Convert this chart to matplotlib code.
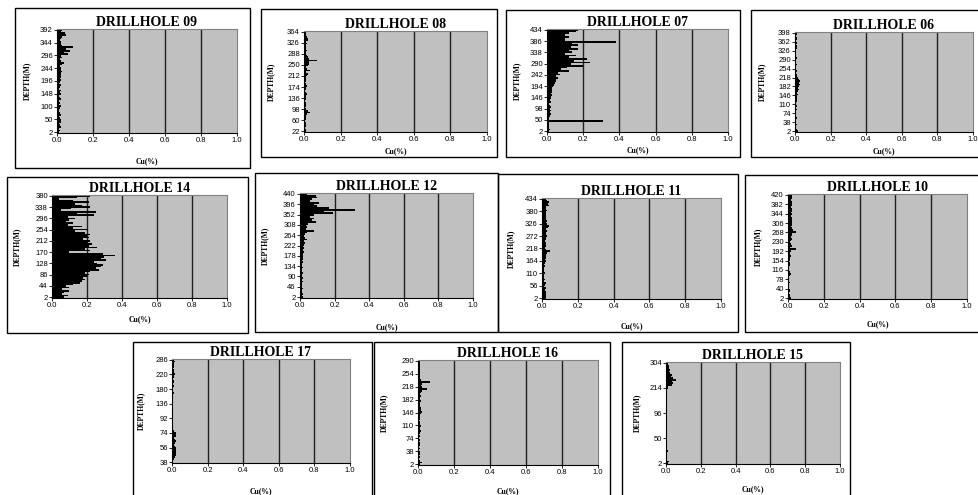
import matplotlib
matplotlib.use("Agg")
import matplotlib.pyplot as plt
import numpy as np
from matplotlib.patches import Rectangle

# Cu(%) per sample, listed from the bottom of the hole upwards
cu_09 = [0.01, 0.015, 0.01, 0.02, 0.015, 0.01, 0.02, 0.025, 0.015, 0.01,
         0.02, 0.015, 0.01, 0.01, 0.015, 0.02, 0.01, 0.015, 0.01, 0.02,
         0.015, 0.01, 0.02, 0.015, 0.025, 0.01, 0.015, 0.02, 0.01, 0.015,
         0.02, 0.015, 0.02, 0.025, 0.02, 0.03, 0.025, 0.02, 0.015, 0.03,
         0.04, 0.02, 0.015, 0.03, 0.025, 0.06, 0.04, 0.075, 0.05, 0.09,
         0.03, 0.02, 0.025, 0.015, 0.02, 0.03, 0.05, 0.045, 0.02, 0.03]
cu_08 = [0.01, 0.012, 0.008, 0.01, 0.012, 0.01, 0.008, 0.01, 0.012, 0.01,
         0.015, 0.035, 0.02, 0.01, 0.008, 0.01, 0.012, 0.01, 0.008, 0.01,
         0.01, 0.012, 0.015, 0.01, 0.008, 0.01, 0.012, 0.015, 0.01, 0.008,
         0.01, 0.012, 0.01, 0.015, 0.02, 0.01, 0.035, 0.015, 0.01, 0.02,
         0.025, 0.03, 0.07, 0.025, 0.02, 0.015, 0.012, 0.01, 0.015, 0.01,
         0.012, 0.01, 0.015, 0.01, 0.02, 0.02, 0.015, 0.01, 0.012, 0.01]
cu_07 = [0.01, 0.015, 0.01, 0.012, 0.01, 0.01, 0.31, 0.012, 0.01, 0.015,
         0.02, 0.015, 0.02, 0.018, 0.02, 0.015, 0.012, 0.02, 0.015, 0.02,
         0.02, 0.025, 0.02, 0.03, 0.025, 0.03, 0.035, 0.04, 0.045, 0.05,
         0.05, 0.06, 0.05, 0.07, 0.06, 0.12, 0.08, 0.11, 0.20, 0.13,
         0.24, 0.15, 0.22, 0.12, 0.16, 0.10, 0.14, 0.12, 0.17, 0.13,
         0.17, 0.14, 0.38, 0.10, 0.10, 0.12, 0.10, 0.12, 0.16, 0.17]
cu_06 = [0.015, 0.01, 0.008, 0.008, 0.01, 0.008, 0.006, 0.008, 0.01, 0.008,
         0.008, 0.006, 0.008, 0.01, 0.008, 0.01, 0.008, 0.006, 0.01, 0.012,
         0.01, 0.012, 0.015, 0.012, 0.015, 0.02, 0.018, 0.025, 0.03, 0.025,
         0.03, 0.02, 0.015, 0.012, 0.01, 0.008, 0.01, 0.008, 0.006, 0.008,
         0.01, 0.008, 0.006, 0.008, 0.01, 0.008, 0.006, 0.008, 0.006, 0.008,
         0.01, 0.012, 0.008, 0.01, 0.008, 0.012, 0.01, 0.008, 0.01, 0.012]
cu_14 = [0.07, 0.09, 0.06, 0.07, 0.10, 0.06,
         0.10, 0.08, 0.12,
         0.16, 0.17, 0.19, 0.18,
         0.20, 0.21, 0.19, 0.22,
         0.27, 0.25, 0.28, 0.29, 0.26,
         0.24, 0.31, 0.28, 0.30, 0.36, 0.29,
         0.10, 0.22,
         0.19, 0.26, 0.21, 0.23, 0.20, 0.22, 0.18,
         0.21, 0.20, 0.22, 0.19,
         0.13, 0.20, 0.12, 0.17,
         0.09, 0.12, 0.08, 0.10,
         0.13, 0.09, 0.24, 0.14, 0.25,
         0.05, 0.11, 0.22, 0.17,
         0.13, 0.21, 0.12, 0.04, 0.14, 0.22]
cu_12 = [0.015, 0.012, 0.015, 0.01, 0.012, 0.015, 0.012, 0.01, 0.012, 0.015,
         0.012, 0.015, 0.012, 0.01, 0.015, 0.012, 0.01, 0.015, 0.012, 0.01,
         0.015, 0.012, 0.015, 0.02, 0.015, 0.02, 0.025, 0.02, 0.025, 0.02,
         0.025, 0.03, 0.025, 0.04, 0.03, 0.025, 0.03, 0.04, 0.08, 0.035,
         0.04, 0.035, 0.045, 0.09, 0.07, 0.08, 0.06, 0.08, 0.19, 0.14,
         0.32, 0.17, 0.10, 0.08, 0.11, 0.06, 0.07, 0.10, 0.09, 0.04]
cu_11 = [0.02, 0.025, 0.02, 0.025, 0.02, 0.015, 0.02, 0.012, 0.015, 0.02,
         0.012, 0.015, 0.01, 0.012, 0.01, 0.015, 0.012, 0.01, 0.012, 0.015,
         0.012, 0.015, 0.02, 0.015, 0.02, 0.025, 0.02, 0.03, 0.045, 0.02,
         0.015, 0.02, 0.025, 0.02, 0.015, 0.02, 0.025, 0.03, 0.025, 0.02,
         0.03, 0.025, 0.035, 0.04, 0.03, 0.025, 0.03, 0.02, 0.025, 0.02,
         0.025, 0.02, 0.03, 0.025, 0.02, 0.04, 0.035, 0.04, 0.03, 0.025]
cu_10 = [0.015, 0.012, 0.01, 0.008, 0.012, 0.01, 0.008, 0.006, 0.008, 0.01,
         0.008, 0.006, 0.008, 0.01, 0.015, 0.012, 0.008, 0.006, 0.008, 0.01,
         0.012, 0.008, 0.01, 0.012, 0.015, 0.01, 0.012, 0.015, 0.045, 0.012,
         0.02, 0.015, 0.012, 0.015, 0.02, 0.015, 0.02, 0.025, 0.045, 0.03,
         0.02, 0.015, 0.02, 0.025, 0.02, 0.025, 0.02, 0.015, 0.02, 0.015,
         0.02, 0.025, 0.015, 0.02, 0.025, 0.02, 0.015, 0.02, 0.025, 0.02]
cu_17 = [0.005, 0.008, 0.01, 0.015, 0.02, 0.025, 0.02, 0.025, 0.02, 0.015,
         0.01, 0.015, 0.02, 0.015, 0.01, 0.02, 0.025, 0.02, 0.01, 0.008,
         0.006, 0.008, 0.005, 0.006, 0.008, 0.006, 0.005, 0.008, 0.006, 0.005,
         0.006, 0.005, 0.008, 0.006, 0.005, 0.006, 0.008, 0.005, 0.006, 0.008,
         0.01, 0.008, 0.006, 0.008, 0.01, 0.008, 0.012, 0.01, 0.008, 0.01,
         0.012, 0.015, 0.01, 0.012, 0.008, 0.01, 0.012, 0.01, 0.015, 0.012]
cu_16 = [0.012, 0.025, 0.01, 0.008, 0.01, 0.008, 0.01, 0.012, 0.008, 0.01,
         0.008, 0.01, 0.012, 0.008, 0.01, 0.008, 0.01, 0.008, 0.012, 0.015,
         0.012, 0.01, 0.015, 0.012, 0.01, 0.008, 0.01, 0.012, 0.01, 0.015,
         0.02, 0.018, 0.015, 0.012, 0.01, 0.012, 0.015, 0.012, 0.01, 0.015,
         0.012, 0.015, 0.02, 0.05, 0.02, 0.015, 0.02, 0.065, 0.015, 0.012,
         0.01, 0.012, 0.01, 0.012, 0.01, 0.012, 0.01, 0.012, 0.01, 0.012]
cu_15 = [0.012, 0.015, 0.008, 0.005, 0.006, 0.005, 0.006, 0.01, 0.008, 0.005,
         0.005, 0.006, 0.005, 0.004, 0.005, 0.006, 0.005, 0.004, 0.005, 0.006,
         0.005, 0.004, 0.005, 0.006, 0.005, 0.004, 0.005, 0.006, 0.005, 0.004,
         0.005, 0.006, 0.005, 0.004, 0.005, 0.006, 0.005, 0.006, 0.005, 0.006,
         0.006, 0.008, 0.006, 0.008, 0.01, 0.012, 0.035, 0.04, 0.035, 0.06,
         0.04, 0.03, 0.035, 0.025, 0.02, 0.025, 0.015, 0.02, 0.012, 0.01]

# depth labels shown on each y axis (bottom to top)
depth_09 = [2, 50, 100, 148, 196, 244, 296, 344, 392]
depth_08 = [22, 60, 98, 136, 174, 212, 250, 288, 326, 364]
depth_07 = [2, 50, 98, 146, 194, 242, 290, 338, 386, 434]
depth_06 = [2, 38, 74, 110, 146, 182, 218, 254, 290, 326, 362, 398]
depth_14 = [2, 44, 86, 128, 170, 212, 254, 296, 338, 380]
depth_12 = [2, 46, 90, 134, 178, 222, 264, 308, 352, 396, 440]
depth_11 = [2, 56, 110, 164, 218, 272, 326, 380, 434]
depth_10 = [2, 40, 78, 116, 154, 192, 230, 268, 306, 344, 382, 420]
depth_17 = [38, 56, 74, 92, 136, 180, 220, 286]
depth_16 = [2, 38, 74, 110, 146, 182, 218, 254, 290]
depth_15 = [2, 50, 96, 214, 304]

x_ticks = [0.0, 0.2, 0.4, 0.6, 0.8, 1.0]

# name, values, labels, box px (l, t, r, b), plot px (l, t, r, b), ylabel x px, xlabel y px
panels = [
    ("DRILLHOLE 09", cu_09, depth_09, (15, 8, 250, 168), (57, 29, 237, 133), 31, 157),
    ("DRILLHOLE 08", cu_08, depth_08, (261, 9, 497, 157), (304, 31, 487, 132), 275, 147),
    ("DRILLHOLE 07", cu_07, depth_07, (506, 10, 740, 157), (547, 29, 728, 132), 521, 146),
    ("DRILLHOLE 06", cu_06, depth_06, (751, 10, 985, 157), (795, 32, 973, 132), 766, 147),
    ("DRILLHOLE 14", cu_14, depth_14, (7, 177, 248, 333), (52, 195, 227, 298), 21, 315),
    ("DRILLHOLE 12", cu_12, depth_12, (255, 173, 498, 332), (300, 193, 473, 298), 269, 323),
    ("DRILLHOLE 11", cu_11, depth_11, (498, 174, 738, 332), (542, 198, 721, 299), 515, 322),
    ("DRILLHOLE 10", cu_10, depth_10, (745, 175, 985, 332), (788, 194, 967, 299), 762, 320),
    ("DRILLHOLE 17", cu_17, depth_17, (133, 342, 372, 500), (172, 359, 350, 463), 145, 487),
    ("DRILLHOLE 16", cu_16, depth_16, (374, 342, 610, 500), (418, 360, 598, 465), 388, 487),
    ("DRILLHOLE 15", cu_15, depth_15, (622, 342, 850, 500), (666, 362, 840, 464), 641, 485),
]

W, H = 979, 495
fig = plt.figure(figsize=(W / 100, H / 100), dpi=100)
fig.patch.set_facecolor("white")

serif = ["Liberation Serif", "DejaVu Serif"]
sans = ["Liberation Sans", "DejaVu Sans"]

for name, vals, labels, box, area, ylab_x, xlab_y in panels:
    bl, bt, br, bb = box
    fig.add_artist(Rectangle((bl / W, 1 - bb / H), (br - bl) / W, (bb - bt) / H,
                             transform=fig.transFigure, fill=False,
                             edgecolor="black", linewidth=1.0))
    l, t, r, b = area
    ax = fig.add_axes([l / W, 1 - b / H, (r - l) / W, (b - t) / H])
    ax.set_facecolor("#c0c0c0")
    n = len(vals)
    pos = np.arange(n)
    ax.barh(pos, vals, height=1.0, color="black", linewidth=0)
    ax.set_xlim(0, 1.0)
    ax.set_ylim(-0.5, n - 0.5)
    ax.set_xticks(x_ticks)
    ax.set_xticklabels([f"{v:.1f}" for v in x_ticks], family=sans, fontsize=5.5)
    ax.set_yticks(np.linspace(0, n - 1, len(labels)))
    ax.set_yticklabels([str(d) for d in labels], family=sans, fontsize=5.5)
    ax.tick_params(length=2, width=0.6, pad=1)
    for g in x_ticks[1:-1]:
        ax.axvline(g, color="#202020", linewidth=1.0, zorder=0.5)
    for side in ["top", "right"]:
        ax.spines[side].set_color("#808080")
        ax.spines[side].set_linewidth(0.8)
    for side in ["left", "bottom"]:
        ax.spines[side].set_color("black")
        ax.spines[side].set_linewidth(0.8)
    ax.set_axisbelow(True)
    ax.set_title(name, family=serif, fontweight="bold", fontsize=10, pad=1)
    ax.set_xlabel("Cu(%)", family=serif, fontweight="bold", fontsize=5.5)
    ax.xaxis.set_label_coords(0.5, (b - xlab_y) / (b - t), transform=ax.transAxes)
    ax.set_ylabel("DEPTH(M)", family=serif, fontweight="bold", fontsize=5.5)
    ax.yaxis.set_label_coords((ylab_x - l) / (r - l), 0.5, transform=ax.transAxes)

fig.savefig("out.png", dpi=100, facecolor="white")
